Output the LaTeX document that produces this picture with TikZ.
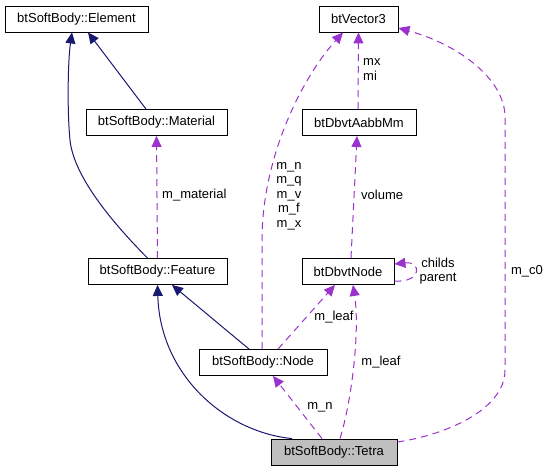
\documentclass[tikz,border=0pt]{standalone}
\usepackage{fontspec}
\setmainfont{Liberation Sans}
\usetikzlibrary{arrows.meta}
\definecolor{inh}{HTML}{191970}
\definecolor{usg}{HTML}{9A32CD}
\definecolor{cur}{HTML}{BFBFBF}
\begin{document}
\begin{tikzpicture}[x=1pt,y=-1pt,
  cls/.style={draw=black, line width=0.9pt, inner sep=0pt, minimum height=26pt,
    font=\fontsize{13}{14.5}\selectfont},
  inhe/.style={draw=inh, line width=1pt, -{Triangle[length=11pt,width=10pt]}},
  use/.style={draw=usg, line width=1pt, dash pattern=on 7pt off 5pt,
    -{Triangle[length=11pt,width=10pt]}},
  lbl/.style={font=\fontsize{13}{14.5}\selectfont, inner sep=0pt}]
\useasboundingbox (0,0) rectangle (549,471);
% classes
\node[cls, minimum width=143pt] (elem) at (76.5,19) {btSoftBody::Element};
\node[cls, minimum width=141pt] (mat) at (156.5,122.5) {btSoftBody::Material};
\node[cls, minimum width=79pt] (vec) at (358.5,19) {btVector3};
\node[cls, minimum width=114pt] (aabb) at (359,122.5) {btDbvtAabbMm};
\node[cls, minimum width=139pt] (feat) at (157.5,271.5) {btSoftBody::Feature};
\node[cls, minimum width=92pt] (dnode) at (348,271.5) {btDbvtNode};
\node[cls, minimum width=128pt] (snode) at (263,362.5) {btSoftBody::Node};
\node[cls, minimum width=126pt, fill=cur] (tetra) at (334,452) {btSoftBody::Tetra};
% inheritance
\draw[inhe] ([xshift=-10.5pt]mat.north) -- ([xshift=11.5pt]elem.south);
\draw[inhe] ([xshift=-10pt]feat.north) .. controls (100,210) and (73,170) .. (70,140)
  .. controls (67,110) and (68,60) .. ([xshift=-4.5pt]elem.south);
\draw[inhe] ([xshift=-14pt]snode.north) -- ([xshift=14.5pt]feat.south);
\draw[inhe] ([xshift=-42pt]tetra.north) .. controls (225,432) and (160,375) .. (feat.south);
% usage
\draw[use] (feat.north) -- (mat.south);
\node[lbl, anchor=west] (lmat) at (162,195) {m\_material};
\draw[use] ([xshift=-1pt]snode.north) -- (262,240) .. controls (262,160) and (300,80)
  .. ([xshift=-15.5pt]vec.south);
\node[lbl, align=center] (lvec) at (289,196) {m\_n\\m\_q\\m\_v\\m\_f\\m\_x};
\draw[use] ([xshift=-1pt]aabb.north) -- (vec.south);
\node[lbl, align=left, anchor=west] (lmx) at (363,69.5) {mx\\mi};
\draw[use] ([xshift=3pt]dnode.north) -- ([xshift=-2pt]aabb.south);
\node[lbl, anchor=west] (lvol) at (361,195) {volume};
\draw[use] ([yshift=-9.5pt]dnode.east) .. controls (422,283) and (422,261)
  .. ([yshift=7.5pt]dnode.east);
\node[lbl, align=center] (lch) at (438,271) {childs\\parent};
\draw[use] ([xshift=15pt]snode.north) -- ([xshift=-13pt]dnode.south);
\node[lbl] (lleaf1) at (334,317) {m\_leaf};
\draw[use] ([xshift=6pt]tetra.north) .. controls (352,400) and (360,330)
  .. ([xshift=5pt]dnode.south);
\node[lbl] (lleaf2) at (381,362) {m\_leaf};
\draw[use] ([xshift=-12pt]tetra.north) -- ([xshift=10pt]snode.south);
\node[lbl] (lmn) at (320,407) {m\_n};
\draw[use] ([yshift=10pt]tetra.east) .. controls (445,435) and (505,410) .. (505,370)
  -- (505,117) .. controls (505,80) and (460,45) .. ([yshift=-9pt]vec.east);
\node[lbl] (lc0) at (527,271) {m\_c0};
\end{tikzpicture}
\end{document}
